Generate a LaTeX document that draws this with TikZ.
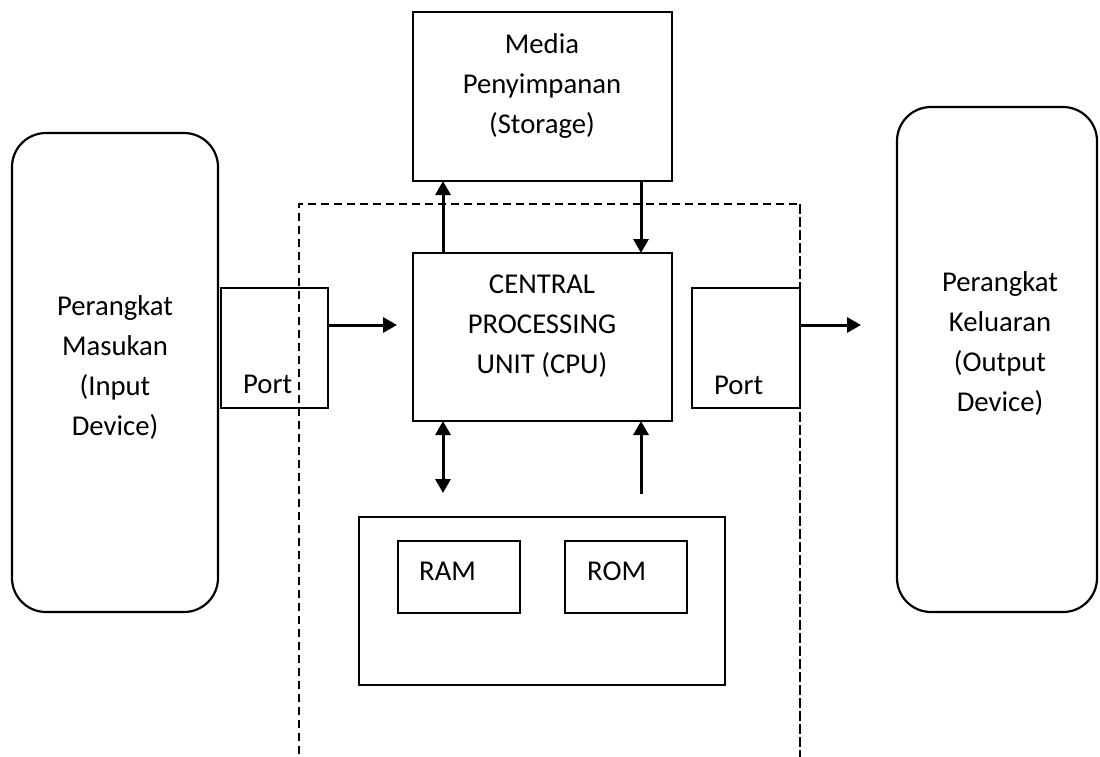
\documentclass[tikz,border=0pt]{standalone}
\usepackage{fontspec}
\setmainfont{Carlito}
\usetikzlibrary{arrows.meta,calc}

\begin{document}
\begin{tikzpicture}[x=1pt,y=-1pt,
  box/.style={draw,line width=2.4pt,inner sep=0pt,outer sep=0pt,rectangle},
  bigbox/.style={box,line width=2.8pt},
  device/.style={box,rounded corners=34pt,line width=2.2pt},
  txt/.style={inner sep=0pt,align=center,font=\fontsize{28.7}{40}\selectfont},
  lbl/.style={inner sep=0pt,anchor=base west,font=\fontsize{28.7}{40}\selectfont},
  arr/.style={line width=3pt,-{Triangle[length=14pt,width=15pt]}},
  darr/.style={line width=3pt,{Triangle[length=14pt,width=15pt]}-{Triangle[length=14pt,width=15pt]}},
  boundary/.style={line width=2pt,dash pattern=on 8pt off 5pt}]

\useasboundingbox (0,0) rectangle (1100,756);
\clip (0,0) rectangle (1100,756);

% system unit boundary (runs off the bottom edge)
\draw[boundary] (299,780) -- (299,204) -- (800,204) -- (800,780);

% main blocks
\node[bigbox,minimum width=259pt,minimum height=169pt] (storage) at (542.5,96.5) {};
\node[bigbox,minimum width=259pt,minimum height=168pt] (cpu) at (542.5,337) {};
\node[box,minimum width=107pt,minimum height=120pt] (portL) at (274.5,348) {};
\node[box,minimum width=108pt,minimum height=120pt] (portR) at (746,348) {};
\node[device,minimum width=206pt,minimum height=479pt] (inDev) at (115,372.5) {};
\node[device,minimum width=200pt,minimum height=505pt] (outDev) at (997,359.5) {};
\node[box,minimum width=366pt,minimum height=168pt] (mem) at (542,601) {};
\node[box,minimum width=122pt,minimum height=72pt] (ram) at (459,577) {};
\node[box,minimum width=122pt,minimum height=72pt] (rom) at (626,577) {};

% redraw the boundary over the right port edge
\draw[boundary] (800,204) -- (800,780);

% labels
\node[txt] (storageT) at (542,85.5) {Media\\Penyimpanan\\(Storage)};
\node[txt] (cpuT) at (542,326.5) {CENTRAL\\PROCESSING\\UNIT (CPU)};
\node[txt] (inT) at (115,368) {Perangkat\\Masukan\\(Input\\Device)};
\node[txt] (outT) at (1000,344) {Perangkat\\Keluaran\\(Output\\Device)};
\node[lbl] (portLT) at (243,393) {Port};
\node[lbl] (portRT) at (714,394) {Port};
\node[lbl] (ramT) at (419,580) {RAM};
\node[lbl] (romT) at (587,580) {ROM};

% connector helpers
\coordinate (lx) at (443,0);
\coordinate (rx) at (641,0);
\coordinate (flowY) at (0,325);
\coordinate (ramEnd) at (443,493);
\coordinate (romStart) at (641,494);

% data flow
\draw[arr,shorten >=16pt] (portL.east |- flowY) -- (cpu.west |- flowY);
\draw[arr,shorten >=36pt] (portR.east |- flowY) -- (outDev.west |- flowY);
\draw[arr] (cpu.north -| lx) -- (storage.south -| lx);
\draw[arr] (storage.south -| rx) -- (cpu.north -| rx);
\draw[darr] (cpu.south -| ramEnd) -- (ramEnd);
\draw[arr] (romStart) -- (cpu.south -| romStart);

\end{tikzpicture}
\end{document}
